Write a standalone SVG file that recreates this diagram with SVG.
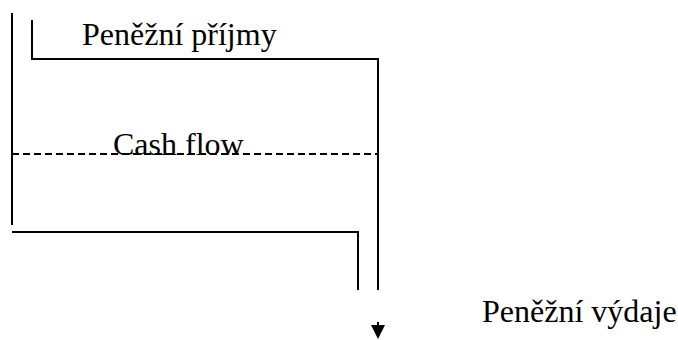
<svg xmlns="http://www.w3.org/2000/svg" width="678" height="340" viewBox="0 0 678 340">
<style>
.ln{fill:none;stroke:#000;stroke-width:2}
.dash{fill:none;stroke:#000;stroke-width:2;stroke-dasharray:7 4}
.t{font-family:"Liberation Serif","Times New Roman",serif;font-size:32px;fill:#000}
</style>
<rect width="678" height="340" fill="#fff"/>
<g id="channel">
<path class="ln" d="M12 13V225"/>
<path class="ln" d="M32 20V59H378V290"/>
<path class="ln" d="M12 232H358V290"/>
<path class="dash" d="M12 154H378"/>
</g>
<g id="arrow">
<path class="ln" d="M378 322V328"/>
<polygon points="371,325 385,325 378,339" fill="#000"/>
</g>
<g id="labels">
<text class="t" x="82" y="45">Peněžní příjmy</text>
<text class="t" x="113" y="155">Cash flow</text>
<text class="t" x="482" y="322">Peněžní výdaje</text>
</g>
</svg>
